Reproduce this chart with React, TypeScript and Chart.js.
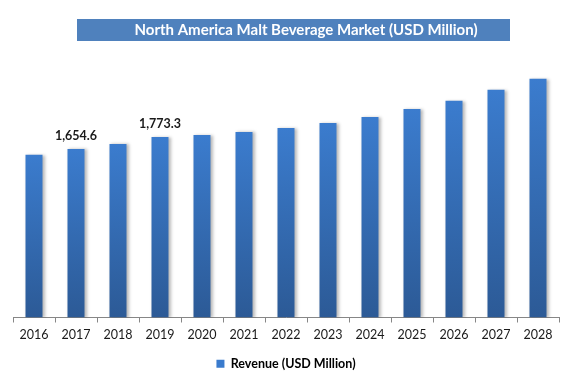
import React, { useEffect, useRef } from "react";
import { Chart, registerables } from "chart.js";

Chart.register(...registerables);

const titleText = "North America Malt Beverage Market (USD Million)";
const seriesName = "Revenue (USD Million)";
const years = ["2016", "2017", "2018", "2019", "2020", "2021", "2022", "2023", "2024", "2025", "2026", "2027", "2028"];
const revenue = [1598, 1654.6, 1704, 1773.3, 1793, 1822, 1862, 1911, 1970, 2049, 2128, 2237, 2345];
const labeledYears = ["2017", "2019"];
const yMin = 0;
const yMax = 2500;

const FONT = "Lato, 'Open Sans', sans-serif";

const titlePlugin = {
  id: "titleBar",
  beforeDraw(chart: any) {
    const ctx = chart.ctx;
    ctx.save();
    ctx.fillStyle = "#4F81BD";
    ctx.fillRect(77, 19, 433, 22);
    ctx.fillStyle = "#FFFFFF";
    ctx.font = `bold 15px ${FONT}`;
    ctx.textAlign = "center";
    ctx.textBaseline = "middle";
    ctx.fillText(titleText, 306, 30.5);
    ctx.restore();
  },
};

const shadowPlugin = {
  id: "barShadow",
  beforeDatasetsDraw(chart: any) {
    const ctx = chart.ctx;
    ctx.save();
    ctx.shadowColor = "rgba(0,0,0,0.28)";
    ctx.shadowOffsetX = 2;
    ctx.shadowOffsetY = 0;
    ctx.shadowBlur = 3;
  },
  afterDatasetsDraw(chart: any) {
    chart.ctx.restore();
  },
};

const valueLabelPlugin = {
  id: "valueLabels",
  afterDatasetsDraw(chart: any) {
    const ctx = chart.ctx;
    const meta = chart.getDatasetMeta(0);
    ctx.save();
    ctx.fillStyle = "#1a1a1a";
    ctx.font = `bold 12.5px ${FONT}`;
    ctx.textAlign = "center";
    ctx.textBaseline = "middle";
    years.forEach((yr, i) => {
      if (!labeledYears.includes(yr)) return;
      const el = meta.data[i];
      const txt = revenue[i].toLocaleString("en-US", { minimumFractionDigits: 1, maximumFractionDigits: 1 });
      ctx.fillText(txt, el.x, el.y - 13);
    });
    ctx.restore();
  },
};

export default function App() {
  const ref = useRef<HTMLCanvasElement | null>(null);
  useEffect(() => {
    if (!ref.current) return;
    const chart = new Chart(ref.current, {
      type: "bar",
      data: {
        labels: years,
        datasets: [
          {
            label: seriesName,
            data: revenue,
            backgroundColor: (c: any) => {
              const ch = c.chart;
              const area = ch.chartArea;
              if (!area || c.dataIndex === undefined) return "#3A7BCD";
              const yTop = ch.scales.y.getPixelForValue(revenue[c.dataIndex]);
              const g = ch.ctx.createLinearGradient(0, yTop, 0, area.bottom);
              g.addColorStop(0, "#3B7CCE");
              g.addColorStop(1, "#2C5A96");
              return g;
            },
            borderWidth: 0,
            categoryPercentage: 1,
            barPercentage: 0.405,
          },
        ],
      },
      options: {
        animation: false,
        responsive: true,
        maintainAspectRatio: false,
        layout: { padding: { top: 63, left: 13, right: 23, bottom: 8 } },
        scales: {
          x: {
            grid: { offset: true, drawOnChartArea: false, tickLength: 5, color: "#868686" },
            border: { color: "#868686", width: 1 },
            ticks: { color: "#1a1a1a", font: { family: FONT, size: 12.5 }, padding: 5, maxRotation: 0 },
          },
          y: { display: false, min: yMin, max: yMax },
        },
        plugins: {
          title: { display: false },
          tooltip: { enabled: false },
          legend: {
            position: "bottom",
            labels: {
              boxWidth: 8,
              boxHeight: 8,
              color: "#1a1a1a",
              font: { family: FONT, size: 12.5, weight: "bold" },
              generateLabels: () => [
                { text: seriesName, fillStyle: "#3A7BCD", strokeStyle: "#3A7BCD", lineWidth: 0, datasetIndex: 0, hidden: false },
              ],
            },
          },
        },
      },
      plugins: [titlePlugin, shadowPlugin, valueLabelPlugin],
    } as any);
    return () => chart.destroy();
  }, []);
  return (
    <div style={{ position: "absolute", left: 0, top: 0, width: 582, height: 388, background: "#fff" }}>
      <canvas ref={ref} />
    </div>
  );
}
